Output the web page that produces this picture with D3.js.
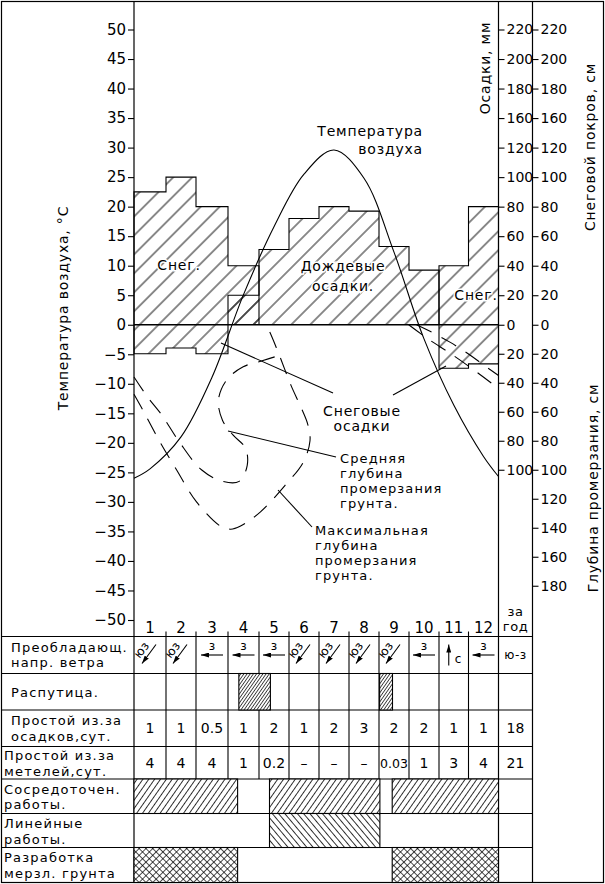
<!DOCTYPE html>
<html lang="ru">
<head>
<meta charset="utf-8">
<title>Климатический график</title>
<script src="https://cdnjs.cloudflare.com/ajax/libs/d3/7.8.5/d3.min.js"></script>
<style>
  html, body { margin: 0; padding: 0; background: #fff; }
  svg { display: block; font-family: "DejaVu Sans", sans-serif; }
  text { fill: #000; }
</style>
</head>
<body>
<div id="chart"></div>
<script>
// ---- data ----
const months = ['1', '2', '3', '4', '5', '6', '7', '8', '9', '10', '11', '12'];
const tempTicks = [-50, -45, -40, -35, -30, -25, -20, -15, -10, -5, 0, 5, 10, 15, 20, 25, 30, 35, 40, 45, 50];
// as printed on the sheet (140 is skipped)
const topTickLabels = [0, 20, 40, 60, 80, 100, 120, 160, 180, 200, 220];
const depthTicksInner = [20, 40, 60, 80, 100];
const depthTicksOuter = [20, 40, 60, 80, 100, 120, 140, 160, 180];

// air temperature, position in months from 1 Jan
const tempPos = [0, 0.5, 1.5, 2.5, 3.5, 4.5, 5.5, 6.5, 7.5, 8.5, 9.5, 10.5, 11.5, 12];
const tempC = [-26, -24.4, -19, -8.9, 5.1, 16.6, 25.5, 29.6, 24.8, 12.3, -2.4, -13.6, -22.3, -25.7];

const snowCover = [90, 100, 80, 40, 0, 0, 0, 0, 0, 0, 40, 80];
const rainMm = [0, 0, 0, 20, 51, 72, 80, 77, 53, 37, 0, 0];
const snowFall = [20, 16, 20, 0, 0, 0, 0, 0, 0, 0, 30, 27];

// frost depth, [month, cm]
const frostMaxSpring = [[0, 48], [0.33, 61], [0.79, 80], [1.35, 100], [2.01, 122], [2.77, 139], [3.09, 141],
  [3.39, 139], [4.05, 129], [4.9, 110], [5.47, 95], [5.7, 80], [5.63, 69], [5.4, 57], [5.07, 42],
  [4.64, 19], [4.31, 3], [4.21, 0]];
const frostMaxAutumn = [[8.99, 0], [9.65, 10], [10.4, 20], [11.3, 33], [12, 44]];
const frostAvgSpring = [[0, 36], [0.43, 50], [0.86, 62], [1.45, 81], [2.17, 100], [2.83, 108], [3.36, 108],
  [3.62, 97], [3.56, 85], [3.16, 76], [2.83, 66], [2.7, 52], [2.96, 38], [3.49, 29], [4.08, 25], [4.7, 21]];
const frostAvgAutumn = [[9.25, 0], [9.65, 4], [10.37, 12], [11.06, 21], [11.52, 28], [12, 35]];

const windDir = ['юз', 'юз', 'з', 'з', 'з', 'юз', 'юз', 'юз', 'юз', 'з', 'с', 'з'];
const windYear = 'ю-з';
const rasputitsa = [[3.35, 4.38], [8.02, 8.45]];
const idleRain = ['1', '1', '0.5', '1', '2', '1', '2', '3', '2', '2', '1', '1'];
const idleRainYear = '18';
const idleSnow = ['4', '4', '4', '1', '0.2', '–', '–', '–', '0.03', '1', '3', '4'];
const idleSnowYear = '21';
const worksPoint = [[0, 3.31], [4.35, 8.03], [8.44, 12]];
const worksLinear = [[4.35, 8.03]];
const frozenDig = [[0, 3.31], [8.44, 12]];

const rowLabels = [
    ['Преобладающ.', 'напр. ветра'],
    ['Распутица.'],
    ['Простой из.за', 'осадков,сут.'],
    ['Простой из.за', 'метелей,сут.'],
    ['Сосредоточен.', 'работы.'],
    ['Линейные', 'работы.'],
    ['Разработка', 'мерзл. грунта']
];

// ---- layout ----
const W = 605, H = 884;
const colEdges = [134, 166, 196, 228, 259, 289, 319, 349, 379, 409, 439, 468.5, 498.5];
const axis2X = 532.5;
const rowLines = [636.5, 673.5, 710, 746.5, 779, 813.5, 847.5, 882.5];
const rowLabelX = [11, 11, 11, 4, 4, 4, 4];
const rowLabelY = [[651.5, 667], [697], [725, 740.5], [760, 775.5], [793.5, 809], [828, 843.5], [862, 877.5]];

const svg = d3.select('#chart').append('svg')
    .attr('width', W).attr('height', H)
    .attr('viewBox', `0 0 ${W} ${H}`);

const x = d3.scaleLinear().domain(d3.range(13)).range(colEdges);
const yT = d3.scaleLinear().domain([-50, 50]).range([620, 29.5]);
const yP = d3.scaleLinear().domain([0, 200]).range([yT(0), yT(50)]);
const yD = d3.scaleLinear().domain([0, 180]).range([yT(0), yT(0) + 261]);

// ---- patterns ----
const defs = svg.append('defs');
function hatch(id, w, angle, sw, cross) {
    const p = defs.append('pattern')
        .attr('id', id)
        .attr('patternUnits', 'userSpaceOnUse')
        .attr('width', w).attr('height', w)
        .attr('patternTransform', `rotate(${angle})`);
    p.append('line').attr('x1', w / 2).attr('y1', 0).attr('x2', w / 2).attr('y2', w)
        .attr('stroke', '#000').attr('stroke-width', sw);
    if (cross) {
        p.append('line').attr('x1', 0).attr('y1', w / 2).attr('x2', w).attr('y2', w / 2)
            .attr('stroke', '#000').attr('stroke-width', sw);
    }
}
hatch('hChart', 13.4, 45, 0.9);
hatch('hMud', 2.6, 35, 0.7);
hatch('hPoint', 4.8, 35, 0.8);
hatch('hLinear', 4.8, -40, 0.8);
hatch('hCross', 4.8, 45, 0.7, true);

defs.append('marker')
    .attr('id', 'arr')
    .attr('viewBox', '0 0 8 5')
    .attr('markerWidth', 8).attr('markerHeight', 5)
    .attr('refX', 8).attr('refY', 2.5)
    .attr('orient', 'auto')
    .attr('markerUnits', 'userSpaceOnUse')
    .append('path').attr('d', 'M0,0L8,2.5L0,5Z').attr('fill', '#000');

// ---- precipitation / snow bars ----
function runs(vals) {
    const out = [];
    let cur = null;
    vals.forEach((v, i) => {
        if (v > 0) {
            if (!cur) { cur = []; out.push(cur); }
            cur.push(i);
        } else cur = null;
    });
    return out;
}

function drawSteps(vals, ys) {
    runs(vals).forEach(r => {
        const pts = [[x(r[0]), ys(0)]];
        r.forEach(i => { pts.push([x(i), ys(vals[i])], [x(i + 1), ys(vals[i])]); });
        pts.push([x(r[r.length - 1] + 1), ys(0)]);
        svg.append('path')
            .attr('d', d3.line()(pts))
            .attr('fill', 'url(#hChart)')
            .attr('stroke', '#000')
            .attr('stroke-width', 1.1);
    });
}
drawSteps(snowCover, yP);
drawSteps(rainMm, yP);
drawSteps(snowFall, yD);

// ---- frame and axes lines ----
svg.append('rect')
    .attr('x', 1.5).attr('y', 1.5).attr('width', W - 3).attr('height', 881)
    .attr('fill', 'none').attr('stroke', '#000').attr('stroke-width', 1.2);

[x(0), x(12), axis2X].forEach(v => {
    svg.append('line').attr('x1', v).attr('x2', v).attr('y1', 1.5).attr('y2', rowLines[7])
        .attr('stroke', '#000').attr('stroke-width', 1.2);
});

svg.append('line')
    .attr('x1', x(0)).attr('x2', x(12)).attr('y1', yT(0)).attr('y2', yT(0))
    .attr('stroke', '#000').attr('stroke-width', 1.6);

function styleAxis(g, size) {
    g.select('.domain').remove();
    g.attr('font-family', null).attr('font-size', size);
    g.selectAll('.tick line').attr('stroke-width', 1.1);
}

svg.append('g')
    .attr('transform', `translate(${x(0)},0)`)
    .call(d3.axisLeft(yT).tickValues(tempTicks).tickSize(6).tickPadding(2))
    .call(styleAxis, 15);

[x(12), axis2X].forEach((ax, k) => {
    svg.append('g')
        .attr('transform', `translate(${ax},0)`)
        .call(d3.axisRight(yP).tickValues(d3.range(0, 201, 20))
            .tickFormat((d, i) => topTickLabels[i]).tickSize(6).tickPadding(2))
        .call(styleAxis, 14);
    svg.append('g')
        .attr('transform', `translate(${ax},0)`)
        .call(d3.axisRight(yD).tickValues(k ? depthTicksOuter : depthTicksInner).tickSize(6).tickPadding(2))
        .call(styleAxis, 14);
});

// ---- curves ----
svg.append('path')
    .datum(tempPos.map((p, i) => [p, tempC[i]]))
    .attr('d', d3.line().x(d => x(d[0])).y(d => yT(d[1])).curve(d3.curveCatmullRom.alpha(0.5)))
    .attr('fill', 'none').attr('stroke', '#000').attr('stroke-width', 1.1);

const frostLine = d3.line().x(d => x(d[0])).y(d => yD(d[1])).curve(d3.curveCatmullRom.alpha(0.5));
[frostMaxSpring, frostMaxAutumn, frostAvgSpring, frostAvgAutumn].forEach(s => {
    svg.append('path')
        .datum(s)
        .attr('d', frostLine)
        .attr('fill', 'none').attr('stroke', '#000').attr('stroke-width', 1.1)
        .attr('stroke-dasharray', '17,11');
});

// leader lines
[[221, 343, 333, 393], [393, 395, 446, 366], [228, 431, 336, 457], [278, 490, 312, 527]].forEach(l => {
    svg.append('line').attr('x1', l[0]).attr('y1', l[1]).attr('x2', l[2]).attr('y2', l[3])
        .attr('stroke', '#000').attr('stroke-width', 1.1);
});

// ---- texts ----
function label(px, py, lines, opt) {
    opt = opt || {};
    const t = svg.append('text')
        .attr('x', px).attr('y', py)
        .attr('font-size', opt.size || 14)
        .attr('letter-spacing', opt.ls == null ? 0.8 : opt.ls)
        .attr('text-anchor', opt.anchor || 'start');
    if (opt.rotate) t.attr('transform', `rotate(${opt.rotate},${px},${py})`).attr('dominant-baseline', 'central');
    if (opt.halo) t.attr('stroke', '#fff').attr('stroke-width', 3).attr('paint-order', 'stroke');
    lines.forEach((s, i) => {
        t.append('tspan').attr('x', px).attr('dy', i ? (opt.lh || 15) : 0).text(s);
    });
    return t;
}

label(423, 136, ['Температура'], { anchor: 'end' });
label(423, 154, ['воздуха'], { anchor: 'end' });
label(179, 270, ['Снег.'], { anchor: 'middle', halo: true });
label(476, 300, ['Снег.'], { anchor: 'middle', halo: true });
label(343, 271, ['Дождевые', 'осадки.'], { anchor: 'middle', halo: true, lh: 20 });
label(362, 416, ['Снеговые', 'осадки'], { anchor: 'middle' });
label(340, 463, ['Средняя', 'глубина', 'промерзания', 'грунта.'], { size: 13, ls: 1.1, lh: 15 });
label(315, 535, ['Максимальная', 'глубина', 'промерзания', 'грунта.'], { size: 13, ls: 1.1, lh: 15 });

label(63, 308, ['Температура воздуха, °С'], { anchor: 'middle', rotate: -90 });
label(485, 68, ['Осадки, мм'], { anchor: 'middle', rotate: -90 });
label(590, 147, ['Снеговой покров, см'], { anchor: 'middle', rotate: -90 });
label(593, 488, ['Глубина промерзания, см'], { anchor: 'middle', rotate: -90 });

// ---- table ----
months.forEach((m, i) => {
    label(x(i + 0.5), 633, [m], { anchor: 'middle', size: 15, ls: 0 });
});
label((x(12) + axis2X) / 2, 616, ['за', 'год'], { anchor: 'middle', size: 13, ls: 0.5 });

d3.range(1, 12).forEach(i => {
    svg.append('line').attr('x1', x(i)).attr('x2', x(i)).attr('y1', rowLines[0] - 5).attr('y2', rowLines[4])
        .attr('stroke', '#000').attr('stroke-width', 1.1);
});
rowLines.slice(0, 7).forEach(v => {
    svg.append('line').attr('x1', 1.5).attr('x2', axis2X).attr('y1', v).attr('y2', v)
        .attr('stroke', '#000').attr('stroke-width', 1.2);
});

rowLabels.forEach((lines, r) => {
    lines.forEach((s, k) => label(rowLabelX[r], rowLabelY[r][k], [s], { size: 13, ls: 1.2 }));
});

// wind
const rt = rowLines[0];
const yearX = (x(12) + axis2X) / 2;
windDir.forEach((d, i) => {
    const cx = x(i + 0.5);
    let seg;
    if (d === 'юз') {
        seg = [cx + 6, rt + 8, cx - 8, rt + 27];
        label(cx - 8.5, rt + 13.5, [d], { anchor: 'middle', size: 12, ls: 0, rotate: -52 });
    } else if (d === 'з') {
        seg = [cx + 11, rt + 18.5, cx - 11, rt + 18.5];
        label(cx, rt + 13.5, [d], { anchor: 'middle', size: 12, ls: 0 });
    } else {
        seg = [cx - 5, rt + 29, cx - 5, rt + 8];
        label(cx + 1, rt + 26, [d], { size: 12, ls: 0 });
    }
    svg.append('line')
        .attr('x1', seg[0]).attr('y1', seg[1]).attr('x2', seg[2]).attr('y2', seg[3])
        .attr('stroke', '#000').attr('stroke-width', 1.1)
        .attr('marker-end', 'url(#arr)');
});
label(yearX, rt + 22, [windYear], { anchor: 'middle', size: 12, ls: 0.5 });

// hatched periods
function periods(list, row, pat) {
    list.forEach(p => {
        const g = svg.append('g');
        g.append('rect')
            .attr('x', x(p[0])).attr('y', rowLines[row])
            .attr('width', x(p[1]) - x(p[0]))
            .attr('height', rowLines[row + 1] - rowLines[row])
            .attr('fill', '#fff');
        g.append('rect')
            .attr('x', x(p[0])).attr('y', rowLines[row])
            .attr('width', x(p[1]) - x(p[0]))
            .attr('height', rowLines[row + 1] - rowLines[row])
            .attr('fill', `url(#${pat})`)
            .attr('stroke', '#000').attr('stroke-width', 1.1);
    });
}
periods(rasputitsa, 1, 'hMud');
periods(worksPoint, 4, 'hPoint');
periods(worksLinear, 5, 'hLinear');
periods(frozenDig, 6, 'hCross');

// idle days
[[idleRain, idleRainYear, 2], [idleSnow, idleSnowYear, 3]].forEach(([vals, total, r]) => {
    const yy = (rowLines[r] + rowLines[r + 1]) / 2 + 5;
    vals.forEach((v, i) => {
        label(x(i + 0.5), yy, [v], { anchor: 'middle', size: v.length > 3 ? 12.5 : 14, ls: 0 });
    });
    label(yearX, yy, [total], { anchor: 'middle', size: 14, ls: 0 });
});
</script>
</body>
</html>
